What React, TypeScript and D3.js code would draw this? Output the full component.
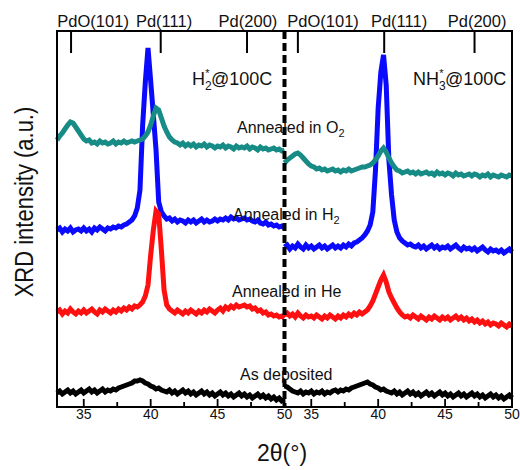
import React from "react";
import * as d3 from "d3";

// 2θ sampling grid (degrees), 33.0 → 50.0 in 0.2° steps
const THETA: number[] = d3.range(86).map((i) => +(33 + i * 0.2).toFixed(1));

const PANELS = ["H2", "NH3"];
const X_TICKS = [35, 40, 45, 50];
const X_MINOR = [37.5, 42.5, 47.5];

// reference peak positions (top axis) per panel
const REF_H2 = [34.05, 40.75, 47.2];
const REF_NH3 = [34.0, 40.45, 47.2];
const REF_LABELS = ["PdO(101)", "Pd(111)", "Pd(200)"];
const REF_LABEL_POS_H2 = [35.7, 41.0, 47.27];
const REF_LABEL_POS_NH3 = [35.88, 41.56, 47.39];

// intensities (a.u., stacked) — panel H2*@100C
const O2_H2 = [
  267, 271, 274, 278, 282, 285, 284, 280, 276, 272,
  268, 266, 267, 264, 265, 263, 266, 264, 265, 263,
  264, 266, 263, 265, 264, 266, 264, 265, 266, 265,
  266, 267, 268, 271, 275, 282, 291, 299, 297, 289,
  281, 275, 270, 267, 265, 264, 262, 264, 261, 263,
  261, 263, 260, 262, 261, 263, 260, 262, 261, 259,
  261, 260, 262, 259, 261, 260, 258, 261, 259, 260,
  259, 261, 258, 260, 259, 257, 260, 258, 259, 257,
  258, 259, 257, 258, 256, 257,
];
const H2_H2 = [
  177, 179, 175, 178, 176, 179, 175, 177, 178, 176,
  179, 176, 178, 175, 179, 177, 180, 178, 176, 179,
  178, 180, 179, 181, 180, 182, 183, 185, 187, 191,
  199, 217, 282, 325, 359, 326, 292, 257, 205, 195,
  191, 188, 189, 186, 188, 185, 187, 186, 184, 187,
  185, 187, 184, 186, 188, 185, 187, 185, 186, 188,
  186, 188, 187, 189, 187, 190, 188, 189, 187, 188,
  189, 187, 188, 186, 185, 187, 184, 183, 185, 182,
  183, 181, 182, 180, 181, 179,
];
const HE_H2 = [
  95, 97, 93, 96, 94, 98, 95, 93, 96, 94,
  97, 94, 96, 98, 95, 93, 97, 95, 98, 96,
  94, 97, 95, 98, 96, 99, 97, 100, 98, 101,
  100, 102, 105, 111, 122, 152, 177, 196, 193, 157,
  117, 102, 98, 96, 94, 97, 95, 93, 96, 94,
  97, 95, 93, 96, 94, 97, 95, 98, 96, 94,
  97, 99, 96, 100, 98, 101, 99, 102, 100, 101,
  102, 100, 101, 98, 99, 96, 97, 94, 95, 92,
  93, 91, 92, 90, 91, 89,
];
const AD_H2 = [
  14, 16, 13, 15, 17, 14, 16, 13, 15, 17,
  14, 16, 18, 15, 17, 14, 16, 18, 15, 17,
  16, 18, 17, 19, 20, 21, 22, 23, 24, 26,
  26, 27, 26, 24, 23, 21, 20, 18, 19, 17,
  16, 15, 17, 14, 16, 13, 15, 17, 14, 16,
  13, 15, 12, 14, 16, 13, 15, 12, 14, 11,
  13, 15, 12, 14, 11, 13, 10, 12, 14, 11,
  13, 10, 12, 9, 11, 13, 10, 12, 9, 11,
  8, 10, 7, 9, 6, 7,
];

// intensities (a.u., stacked) — panel NH3*@100C
const O2_NH3 = [
  244, 247, 249, 251, 253, 254, 252, 249, 246, 243,
  241, 240, 238, 239, 237, 238, 236, 237, 238, 236,
  237, 235, 237, 236, 238, 236, 237, 238, 239, 240,
  240, 241, 242, 244, 247, 251, 256, 259, 255, 249,
  244, 240, 237, 236, 234, 235, 236, 234, 235, 233,
  235, 233, 234, 235, 233, 234, 232, 235, 233, 234,
  232, 234, 233, 231, 234, 232, 233, 231, 232, 233,
  231, 233, 232, 230, 232, 231, 233, 230, 232, 231,
  230, 232, 231, 230, 232, 231,
];
const H2_NH3 = [
  160, 162, 158, 161, 159, 163, 160, 158, 162, 159,
  161, 158, 160, 162, 159, 161, 158, 160, 162, 159,
  161, 159, 162, 160, 163, 161, 164, 165, 167, 169,
  172, 176, 182, 195, 237, 299, 335, 352, 322, 247,
  212, 187, 175, 169, 166, 164, 162, 163, 161, 160,
  162, 159, 161, 158, 160, 162, 159, 161, 158, 160,
  159, 161, 158, 160, 162, 159, 157, 160, 158, 159,
  157, 159, 156, 158, 160, 157, 155, 158, 156, 157,
  155, 157, 154, 156, 158, 155,
];
const HE_NH3 = [
  92, 94, 91, 93, 90, 94, 91, 89, 92, 90,
  91, 89, 92, 90, 88, 91, 89, 92, 90, 88,
  91, 89, 92, 90, 93, 91, 94, 92, 95, 93,
  95, 97, 101, 106, 113, 120, 127, 132, 125, 115,
  109, 104, 99, 95, 92, 90, 91, 89, 92, 90,
  88, 91, 89, 87, 90, 88, 91, 89, 87, 90,
  88, 90, 87, 89, 91, 88, 90, 87, 89, 86,
  88, 85, 87, 84, 86, 83, 85, 82, 84, 83,
  81, 84, 82, 80, 83, 81,
];
const AD_NH3 = [
  21, 20, 18, 16, 15, 14, 16, 13, 15, 14,
  16, 13, 15, 14, 16, 13, 15, 14, 16, 17,
  15, 17, 16, 18, 17, 19, 20, 21, 22, 23,
  24, 25, 23, 22, 20, 19, 17, 18, 16, 15,
  14, 16, 13, 15, 12, 14, 16, 13, 15, 12,
  14, 11, 13, 15, 12, 14, 11, 13, 15, 12,
  14, 11, 13, 10, 12, 14, 11, 13, 10, 12,
  14, 11, 13, 10, 12, 9, 11, 13, 10, 12,
  9, 11, 8, 10, 12, 9,
];

const SERIES_NAMES = ["Annealed in H2", "Annealed in He", "Annealed in O2", "As deposited"];
const SERIES_COLORS = ["#0a0aff", "#ff1010", "#178c86", "#000000"];
const SERIES_H2 = [H2_H2, HE_H2, O2_H2, AD_H2];
const SERIES_NH3 = [H2_NH3, HE_NH3, O2_NH3, AD_NH3];

const W = 520;
const H = 470;
const LEFT = 57;
const MID = 284.5;
const RIGHT = 512;
const TOP = 31;
const BOTTOM = 407;

export default function App() {
  const xScales = [
    d3.scaleLinear().domain([33, 50]).range([LEFT, MID]),
    d3.scaleLinear().domain([33, 50]).range([MID, RIGHT]),
  ];
  const y = d3.scaleLinear().domain([0, 376]).range([BOTTOM, TOP]);
  const seriesByPanel = [SERIES_H2, SERIES_NH3];
  const refs = [REF_H2, REF_NH3];
  const refLabelPos = [REF_LABEL_POS_H2, REF_LABEL_POS_NH3];
  const font = "Liberation Sans, Arial, sans-serif";

  return (
    <svg
      width={W}
      height={H}
      style={{ position: "absolute", left: 0, top: 0, background: "#fff" }}
      fontFamily={font}
    >
      {PANELS.map((p, pi) => {
        const x = xScales[pi];
        const line = d3
          .line<number>()
          .x((_, i) => x(THETA[i]))
          .y((d) => y(d));
        return (
          <g key={p}>
            {seriesByPanel[pi].map((vals, si) => (
              <path
                key={si}
                d={line(vals) || ""}
                fill="none"
                stroke={SERIES_COLORS[si]}
                strokeWidth={5}
                strokeLinejoin="miter"
                strokeMiterlimit={3}
              >
                <title>{SERIES_NAMES[si]}</title>
              </path>
            ))}
            {X_TICKS.map((t) => (
              <g key={t}>
                <line x1={x(t)} x2={x(t)} y1={BOTTOM} y2={BOTTOM - 8} stroke="#000" strokeWidth={1.8} />
                <text x={x(t)} y={419} fontSize={14} textAnchor="middle" fill="#111">
                  {t}
                </text>
              </g>
            ))}
            {X_MINOR.map((t) => (
              <line key={t} x1={x(t)} x2={x(t)} y1={BOTTOM} y2={BOTTOM - 5} stroke="#000" strokeWidth={1.8} />
            ))}
            {refs[pi].map((t, k) => (
              <line key={k} x1={x(t)} x2={x(t)} y1={TOP} y2={53} stroke="#000" strokeWidth={2} />
            ))}
            {REF_LABELS.map((lab, k) => (
              <text key={lab} x={x(refLabelPos[pi][k])} y={27} fontSize={16.5} textAnchor="middle" fill="#111">
                {lab}
              </text>
            ))}
          </g>
        );
      })}

      {/* frame */}
      <rect x={LEFT} y={TOP} width={RIGHT - LEFT} height={BOTTOM - TOP} fill="none" stroke="#000" strokeWidth={2} />
      {/* panel divider */}
      <line x1={MID} x2={MID} y1={TOP} y2={BOTTOM} stroke="#000" strokeWidth={4} strokeDasharray="8,4" />

      {/* panel titles */}
      <text x={192} y={85} fontSize={18} fill="#111">
        H
        <tspan fontSize={12} dy={5}>2</tspan>
        <tspan fontSize={11} dx={-6.5} dy={-13}>*</tspan>
        <tspan fontSize={18} dx={1.5} dy={8}>@100C</tspan>
      </text>
      <text x={413} y={85} fontSize={18} fill="#111">
        NH
        <tspan fontSize={12} dy={5}>3</tspan>
        <tspan fontSize={11} dx={-6.5} dy={-13}>*</tspan>
        <tspan fontSize={18} dx={1.5} dy={8}>@100C</tspan>
      </text>

      {/* series labels */}
      <text x={237} y={133} fontSize={16} fill="#111">
        Annealed in O<tspan fontSize={11} dy={4}>2</tspan>
      </text>
      <text x={233} y={220} fontSize={16} fill="#111">
        Annealed in H<tspan fontSize={11} dy={4}>2</tspan>
      </text>
      <text x={232} y={297} fontSize={16} fill="#111">
        Annealed in He
      </text>
      <text x={240} y={380} fontSize={16} fill="#111">
        As deposited
      </text>

      {/* axis titles */}
      <text transform="translate(33,202) rotate(-90) scale(1,1.2)" fontSize={22} textAnchor="middle" fill="#111">
        XRD intensity (a.u.)
      </text>
      <text x={282} y={461} fontSize={23} textAnchor="middle" fill="#111">
        2θ(°)
      </text>
    </svg>
  );
}
